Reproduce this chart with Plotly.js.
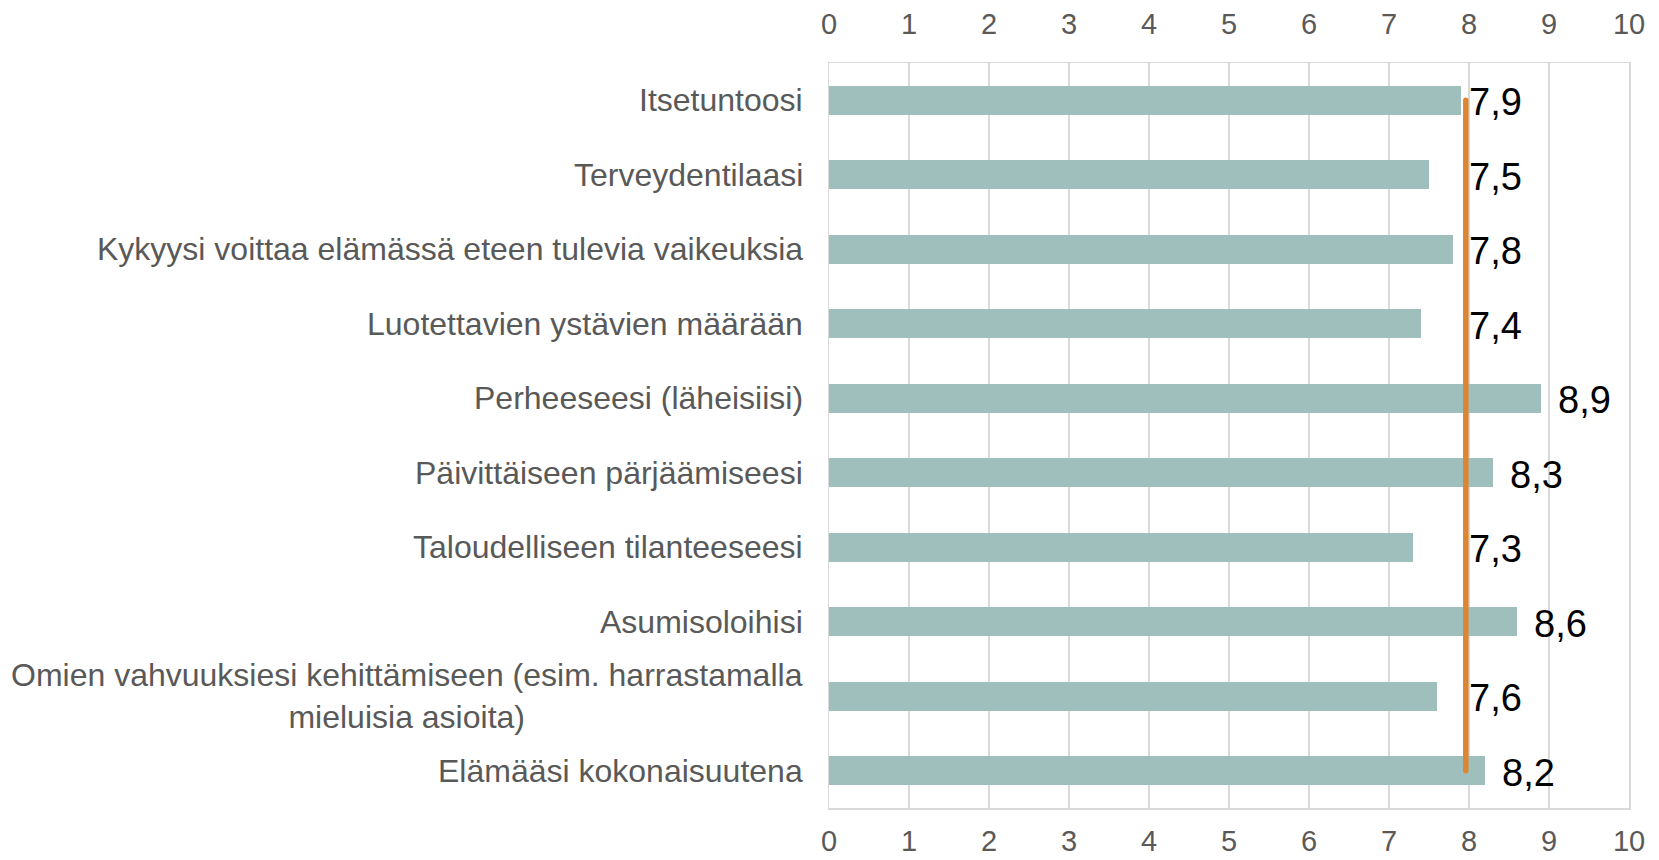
<!DOCTYPE html>
<html>
<head>
<meta charset="utf-8">
<script src="https://cdn.plot.ly/plotly-3.0.1.min.js"></script>
<style>
  html, body { margin: 0; padding: 0; background: #ffffff; }
  #chart { width: 1659px; height: 860px; }
</style>
</head>
<body>
<div id="chart"></div>
<script>
// ---- data ----
const categories = [
  "Itsetuntoosi",
  "Terveydentilaasi",
  "Kykyysi voittaa elämässä eteen tulevia vaikeuksia",
  "Luotettavien ystävien määrään",
  "Perheeseesi (läheisiisi)",
  "Päivittäiseen pärjäämiseesi",
  "Taloudelliseen tilanteeseesi",
  "Asumisoloihisi",
  "Omien vahvuuksiesi kehittämiseen (esim. harrastamalla<br>mieluisia asioita)",
  "Elämääsi kokonaisuutena"
];
const scores = [7.9, 7.5, 7.8, 7.4, 8.9, 8.3, 7.3, 8.6, 7.6, 8.2];
const scoreLabels = ["7,9", "7,5", "7,8", "7,4", "8,9", "8,3", "7,3", "8,6", "7,6", "8,2"];
const averageScore = 7.96;
const tickValues = [0, 1, 2, 3, 4, 5, 6, 7, 8, 9, 10];
const tickLabels = ["0", "1", "2", "3", "4", "5", "6", "7", "8", "9", "10"];

// ---- styles ----
const FONT = "Liberation Sans, Arial, sans-serif";
const GRID = "#D9D9D9";
const GREY = "#595959";

const catKeys = categories.map((c, i) => "c" + i);

const bars = {
  type: "bar",
  orientation: "h",
  x: scores,
  y: catKeys,
  width: 0.39,
  marker: { color: "#9FBFBD", line: { width: 0 } },
  hoverinfo: "x",
  xaxis: "x",
  yaxis: "y"
};

const avgLine = {
  type: "scatter",
  mode: "lines",
  x: catKeys.map(() => averageScore),
  y: catKeys,
  line: { color: "#DC8634", width: 5.5 },
  hoverinfo: "x",
  xaxis: "x2",
  yaxis: "y"
};

const annotations = [];
categories.forEach((c, i) => {
  annotations.push({
    xref: "paper", yref: "y",
    x: 0, y: catKeys[i],
    xanchor: "right", yanchor: "middle",
    xshift: -24,
    align: "center",
    text: c,
    showarrow: false,
    font: { family: FONT, size: 32, color: GREY }
  });
});
scores.forEach((v, i) => {
  const above = v > averageScore;
  annotations.push({
    xref: "x", yref: "y",
    x: above ? v : averageScore,
    y: catKeys[i],
    xanchor: "left", yanchor: "middle",
    xshift: above ? 15 : 1,
    yshift: -2,
    text: scoreLabels[i],
    showarrow: false,
    font: { family: FONT, size: 38, color: "#000000" }
  });
});

const xCommon = {
  range: [0, 10],
  tickmode: "array",
  tickvals: tickValues,
  ticktext: tickLabels,
  zeroline: false,
  fixedrange: true,
  tickfont: { family: FONT, size: 29, color: GREY }
};

const layout = {
  width: 1659,
  height: 860,
  margin: { l: 829, r: 30, t: 63, b: 52, pad: 0 },
  paper_bgcolor: "#ffffff",
  plot_bgcolor: "#ffffff",
  showlegend: false,
  bargap: 0,
  xaxis: Object.assign({}, xCommon, {
    side: "bottom",
    showgrid: true,
    gridcolor: GRID,
    gridwidth: 1.5,
    showline: true,
    mirror: true,
    linecolor: GRID,
    linewidth: 1.5,
    ticks: "",
    ticklabelstandoff: 7
  }),
  xaxis2: Object.assign({}, xCommon, {
    side: "top",
    overlaying: "x",
    matches: "x",
    showgrid: false,
    showline: false,
    ticks: "",
    ticklabelstandoff: 22
  }),
  yaxis: {
    type: "category",
    range: [9.5, -0.5],
    showticklabels: false,
    showgrid: false,
    zeroline: false,
    showline: true,
    mirror: true,
    linecolor: GRID,
    linewidth: 1.5,
    ticks: "",
    fixedrange: true
  },
  annotations: annotations
};

Plotly.newPlot("chart", [bars, avgLine], layout, { displayModeBar: false, staticPlot: true })
  .then(() => {
    document.querySelectorAll("#chart .scatterlayer path.js-line").forEach(p => {
      p.style.strokeLinecap = "round";
    });
  });
</script>
</body>
</html>
